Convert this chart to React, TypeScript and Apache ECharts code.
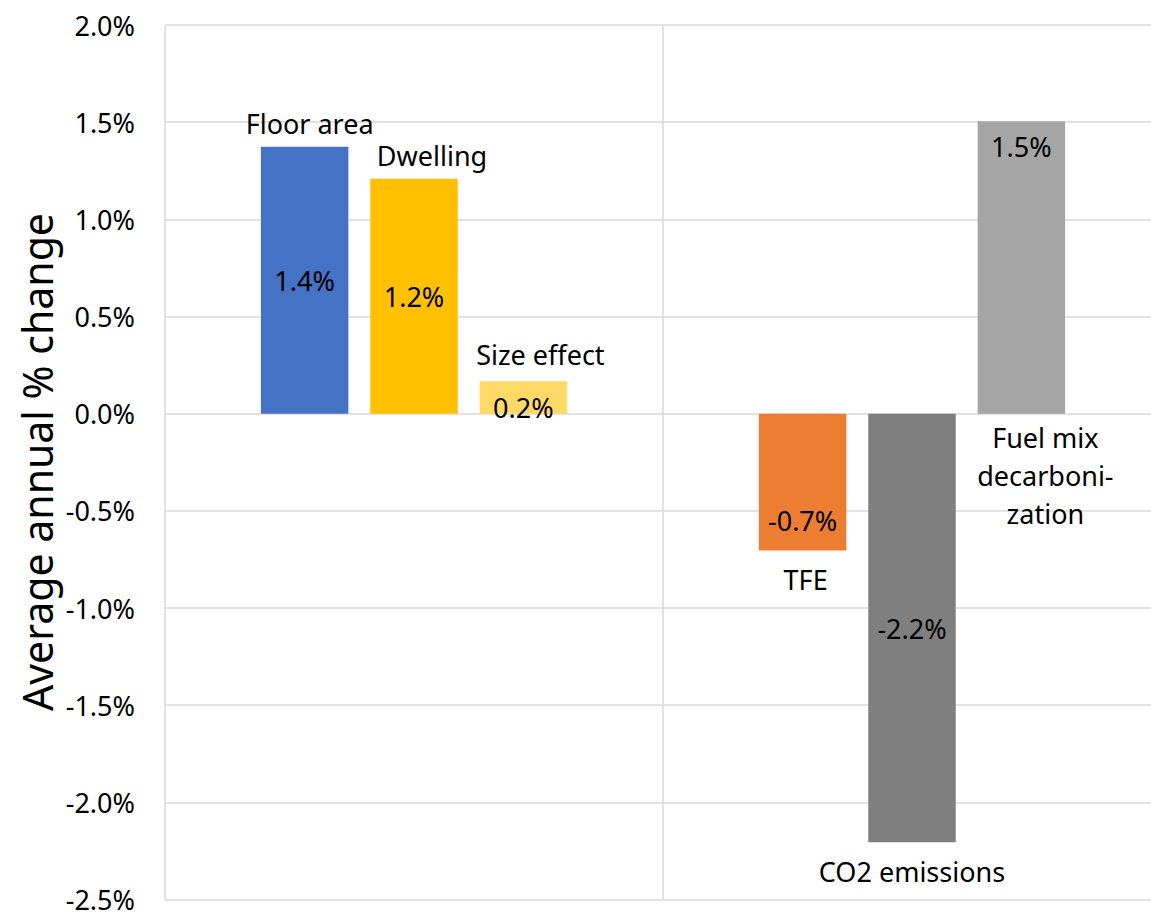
import React, { useEffect, useRef } from "react";
import * as echarts from "echarts";

// Two groups on the category axis; three bar slots per group.
const categories = ["Activity & size", "Energy & emissions"];
const slotNames = ["Slot 1", "Slot 2", "Slot 3"];
// barNames[slot][category]
const barNames = [
  ["Floor area", "TFE"],
  ["Dwelling", "CO2 emissions"],
  ["Size effect", "Fuel mix\ndecarboni-\nzation"],
];
// average annual % change, barValues[slot][category]
const barValues = [
  [1.374, -0.704],
  [1.209, -2.206],
  [0.167, 1.505],
];
const barColors = [
  ["#4472C4", "#ED7D31"],
  ["#FFC000", "#7F7F7F"],
  ["#FFD966", "#A5A5A5"],
];
const yMin = -2.5;
const yMax = 2.0;
const yInterval = 0.5;
const yTitle = "Average annual % change";

// label placement styles (per slot, per category)
const valueLabelStyle = [
  [{ position: "inside", offset: [0, 0] }, { position: "inside", offset: [0, 38] }],
  [{ position: "inside", offset: [0, 0] }, { position: "inside", offset: [0, 0] }],
  [{ position: "inside", offset: [0, 10] }, { position: "insideTop", distance: 12, offset: [0, 0] }],
];
// name label: anchor at bar end ("end") or at baseline ("base"), plus pixel offset
const nameLabelStyle = [
  [{ anchor: "end", offset: [5, -23] }, { anchor: "end", offset: [3, 29] }],
  [{ anchor: "end", offset: [18, -23] }, { anchor: "end", offset: [0, 29] }],
  [{ anchor: "end", offset: [17, -27] }, { anchor: "base", offset: [24, 62] }],
];

const FONT = "Noto Sans";
const FS = 27;

export default function App() {
  const ref = useRef<HTMLDivElement>(null);

  useEffect(() => {
    if (!ref.current) return;
    const chart = echarts.init(ref.current, undefined, { renderer: "svg" });

    const series = slotNames.map((name, s) => ({
      name,
      type: "bar",
      barWidth: 87.5,
      barGap: "25%",
      data: barValues[s].map((v, c) => ({
        value: v,
        itemStyle: { color: barColors[s][c] },
        label: {
          show: true,
          position: valueLabelStyle[s][c].position,
          distance: (valueLabelStyle[s][c] as any).distance ?? 5,
          offset: valueLabelStyle[s][c].offset,
        },
      })),
      label: {
        show: true,
        color: "#000",
        fontFamily: FONT,
        fontSize: FS,
        formatter: (p: any) => `${Number(p.value).toFixed(1)}%`,
      },
      markPoint: {
        symbol: "circle",
        symbolSize: 1,
        itemStyle: { color: "rgba(0,0,0,0)" },
        silent: true,
        label: {
          show: true,
          position: "inside",
          color: "#000",
          fontFamily: FONT,
          fontSize: FS,
          lineHeight: 38,
          align: "center",
        },
        data: barValues[s].map((v, c) => ({
          coord: [c, nameLabelStyle[s][c].anchor === "base" ? 0 : v],
          label: {
            formatter: barNames[s][c],
            offset: nameLabelStyle[s][c].offset,
          },
        })),
      },
    }));

    chart.setOption({
      animation: false,
      textStyle: { fontFamily: FONT },
      grid: { left: 165, top: 25, right: 1, bottom: 11, containLabel: false },
      xAxis: {
        type: "category",
        data: categories,
        axisLine: { show: false },
        axisTick: { show: false },
        axisLabel: { show: false },
        splitLine: { show: true, lineStyle: { color: "#D9D9D9", width: 1.5 } },
      },
      yAxis: {
        type: "value",
        min: yMin,
        max: yMax,
        interval: yInterval,
        axisLine: { show: false },
        axisTick: { show: false },
        axisLabel: {
          color: "#000",
          fontFamily: FONT,
          fontSize: FS,
          margin: 30,
          formatter: (v: number) => `${v.toFixed(1)}%`,
        },
        splitLine: { show: true, lineStyle: { color: "#D9D9D9", width: 1.5 } },
      },
      graphic: [
        {
          type: "text",
          x: 37,
          y: 462,
          rotation: Math.PI / 2,
          style: {
            text: yTitle,
            fill: "#000",
            font: `41px "${FONT}"`,
            align: "center",
            verticalAlign: "middle",
          },
        },
      ],
      series,
    });

    return () => chart.dispose();
  }, []);

  return (
    <div
      style={{
        position: "absolute",
        left: 0,
        top: 0,
        width: 1151,
        height: 913,
        overflow: "hidden",
        background: "#fff",
      }}
    >
      <div ref={ref} style={{ width: 1162, height: 913 }} />
    </div>
  );
}
